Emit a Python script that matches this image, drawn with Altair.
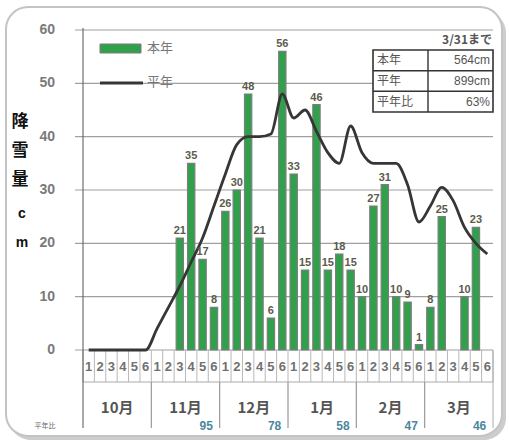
import altair as alt
import pandas as pd

# Half-month (半旬) snowfall, October to March
months = ["10月", "11月", "12月", "1月", "2月", "3月"]
halves = ["1", "2", "3", "4", "5", "6"]
this_year = [0, 0, 0, 0, 0, 0,
             0, 0, 21, 35, 17, 8,
             26, 30, 48, 21, 6, 56,
             33, 15, 46, 15, 18, 15,
             10, 27, 31, 10, 9, 1,
             8, 25, 0, 10, 23, 0]
normal = [0, 0, 0, 0, 0, 0,
          4, 8, 12, 16.5, 21, 27,
          33, 38.5, 40, 40, 40.5, 48,
          43.5, 45, 41, 37, 35, 42,
          37, 35, 35, 35, 31, 24,
          27, 30.5, 28, 23, 20, 18]
month_ratio = ["", "95", "78", "58", "47", "46"]
summary_labels = ["本年", "平年", "平年比"]
summary_values = ["564cm", "899cm", "63%"]
y_ticks = [0, 10, 20, 30, 40, 50, 60]

GREEN = "#30a04b"
LINE = "#363636"
JP = "Noto Sans CJK JP"
NUM = "Liberation Sans"

W, H = 410, 320

df = pd.DataFrame({
    "idx": range(36),
    "half": halves * 6,
    "snow": this_year,
    "normal": normal,
})
df["xc"] = df["idx"] + 0.5
df["x0"] = df["idx"] + 0.18
df["x1"] = df["idx"] + 0.82
df["base"] = 0

mdf = pd.DataFrame({"start": [0, 6, 12, 18, 24, 30], "month": months, "ratio": month_ratio})
mdf["mc"] = mdf["start"] + 3
mdf["rc"] = mdf["start"] + 5

xs = alt.Scale(domain=[0, 36], nice=False, zero=False)
ys = alt.Scale(domain=[0, 60], nice=False)
one = alt.Data(values=[{"a": 1}])
ticks_df = pd.DataFrame({"v": y_ticks})

# rounded panel with a soft shadow
shadow = alt.Chart(one).mark_rect(cornerRadius=22, fill="#cdcdcd").encode(
    x=alt.value(-74), x2=alt.value(423), y=alt.value(-19), y2=alt.value(410))
frame = alt.Chart(one).mark_rect(cornerRadius=22, fill="white", stroke="#c4c4c4", strokeWidth=2).encode(
    x=alt.value(-77), x2=alt.value(419), y=alt.value(-23), y2=alt.value(406))

# horizontal gridlines, running a little past the axis as tick marks
grid = alt.Chart(ticks_df).mark_rule(color="#a0a0a0", strokeWidth=1.2).encode(
    y=alt.Y("v:Q", scale=ys, axis=None), x=alt.value(-8), x2=alt.value(W))
y_labels = alt.Chart(ticks_df).mark_text(
    align="right", baseline="middle", fontSize=14, fontWeight="bold", color="#7a7a7a", font=NUM).encode(
    y=alt.Y("v:Q", scale=ys, axis=None), x=alt.value(-28), text="v:Q")

left_line = alt.Chart(one).mark_rule(color="#555", strokeWidth=1).encode(
    x=alt.value(0), y=alt.value(-2), y2=alt.value(398))
right_line = alt.Chart(one).mark_rule(color="#aaa", strokeWidth=1).encode(
    x=alt.value(W), y=alt.value(H), y2=alt.value(398))
month_line = alt.Chart(one).mark_rule(color="#aaa", strokeWidth=1).encode(
    x=alt.value(0), x2=alt.value(W), y=alt.value(352))

seps = alt.Chart(pd.DataFrame({"p": list(range(37))})).mark_rule(color="#b8b8b8", strokeWidth=1).encode(
    x=alt.X("p:Q", scale=xs, axis=None), y=alt.value(H), y2=alt.value(352))

dividers = alt.Chart(mdf).transform_filter("datum.start > 0").mark_rule(color="#999", strokeWidth=1.2).encode(
    x=alt.X("start:Q", scale=xs, axis=None), y=alt.value(352), y2=alt.value(398))

bars = alt.Chart(df).transform_filter("datum.snow > 0").mark_bar(
    color=GREEN, stroke="#7d7d7d", strokeWidth=1.2).encode(
    x=alt.X("x0:Q", scale=xs, axis=None), x2="x1:Q",
    y=alt.Y("snow:Q", scale=ys, axis=None), y2="base:Q")

line = alt.Chart(df).mark_line(interpolate="monotone", color=LINE, strokeWidth=2.8).encode(
    x=alt.X("xc:Q", scale=xs, axis=None), y=alt.Y("normal:Q", scale=ys, axis=None))

labels = alt.Chart(df).transform_filter("datum.snow > 0").mark_text(
    baseline="bottom", dy=-2, fontSize=11, fontWeight="bold", color="#5c5c4c", font=NUM).encode(
    x=alt.X("xc:Q", scale=xs, axis=None), y=alt.Y("snow:Q", scale=ys, axis=None), text="snow:Q")

half_labels = alt.Chart(df).mark_text(
    baseline="middle", fontSize=13, fontWeight="bold", color="#707070", font=NUM).encode(
    x=alt.X("xc:Q", scale=xs, axis=None), y=alt.value(337), text="half:N")

month_labels = alt.Chart(mdf).mark_text(
    baseline="middle", fontSize=15, fontWeight="bold", color="#555", font=JP).encode(
    x=alt.X("mc:Q", scale=xs, axis=None), y=alt.value(378), text="month:N")

ratios = alt.Chart(mdf).transform_filter("datum.ratio != ''").mark_text(
    baseline="middle", dx=-2, fontSize=12, fontWeight="bold", color="#4a87a0", font=NUM).encode(
    x=alt.X("rc:Q", scale=xs, axis=None), y=alt.value(396), text="ratio:N")

ratio_note = alt.Chart(one).mark_text(fontSize=7, color="#666", font=JP, text="平年比").encode(
    x=alt.value(-38), y=alt.value(396))

y_title = alt.Chart(one).mark_text(
    fontSize=17, fontWeight="bold", color="#111", font=JP, baseline="top",
    lineHeight=29, lineBreak="\n", text="降\n雪\n量").encode(
    x=alt.value(-63), y=alt.value(84))
y_unit = alt.Chart(one).mark_text(
    fontSize=14, fontWeight="bold", color="#111", font=NUM, baseline="top",
    lineHeight=29, lineBreak="\n", text="c\nm").encode(
    x=alt.value(-61), y=alt.value(177))

# legend
leg_bar = alt.Chart(one).mark_rect(fill=GREEN, stroke="#7d7d7d", strokeWidth=1).encode(
    x=alt.value(17), x2=alt.value(58), y=alt.value(14), y2=alt.value(23))
leg_line = alt.Chart(one).mark_rule(color=LINE, strokeWidth=2.8).encode(
    x=alt.value(17), x2=alt.value(60), y=alt.value(53))
leg_t1 = alt.Chart(one).mark_text(align="left", baseline="middle", fontSize=13, color="#777",
                                  font=JP, text="本年").encode(x=alt.value(64), y=alt.value(18))
leg_t2 = alt.Chart(one).mark_text(align="left", baseline="middle", fontSize=13, color="#777",
                                  font=JP, text="平年").encode(x=alt.value(64), y=alt.value(52))

# season-total table
tx0, tx1, txm = 290, 410, 345
ty = [20, 40.7, 61.3, 82]
table = [alt.Chart(one).mark_text(align="right", baseline="middle", fontSize=12, fontWeight="bold",
                                  color="#555", font=JP, text="3/31まで").encode(
    x=alt.value(409), y=alt.value(10))]
table.append(alt.Chart(one).mark_rect(fill="white", stroke="#333", strokeWidth=1.6).encode(
    x=alt.value(tx0), x2=alt.value(tx1), y=alt.value(ty[0]), y2=alt.value(ty[3])))
for yy in ty[1:3]:
    table.append(alt.Chart(one).mark_rule(color="#333", strokeWidth=1.4).encode(
        x=alt.value(tx0), x2=alt.value(tx1), y=alt.value(yy)))
table.append(alt.Chart(one).mark_rule(color="#333", strokeWidth=1.4).encode(
    x=alt.value(txm), y=alt.value(ty[0]), y2=alt.value(ty[3])))
for i, (lab, val) in enumerate(zip(summary_labels, summary_values)):
    yc = (ty[i] + ty[i + 1]) / 2
    table.append(alt.Chart(one).mark_text(align="left", baseline="middle", fontSize=12,
                                          color="#555", font=JP, text=lab).encode(
        x=alt.value(tx0 + 4), y=alt.value(yc)))
    table.append(alt.Chart(one).mark_text(align="right", baseline="middle", fontSize=12,
                                          color="#555", font=NUM, text=val).encode(
        x=alt.value(tx1 - 3), y=alt.value(yc)))

chart = alt.layer(
    shadow, frame, grid, y_labels, seps, month_line, dividers, left_line, right_line,
    bars, line, labels, half_labels, month_labels, ratios, ratio_note, y_title, y_unit,
    leg_bar, leg_line, leg_t1, leg_t2, *table
).properties(
    width=W, height=H,
    autosize=alt.AutoSizeParams(type="none"),
    padding={"left": 83, "top": 30, "right": 16, "bottom": 94},
).configure(background="white").configure_view(stroke=None)

chart.save("out.html", embed_options={"renderer": "svg", "actions": False})
